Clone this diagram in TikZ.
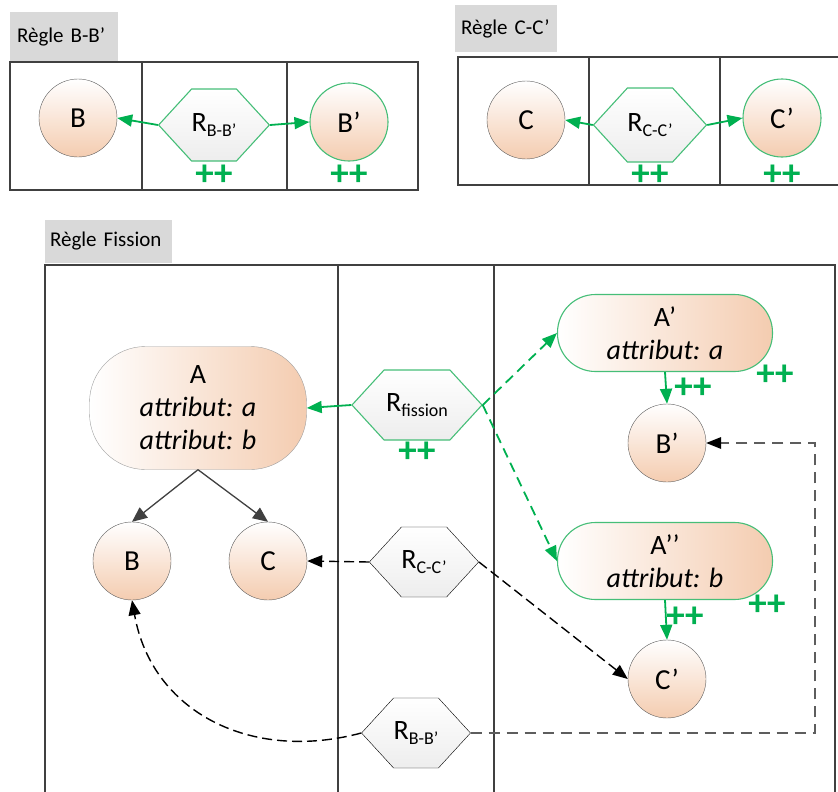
\documentclass[tikz,border=0pt]{standalone}
\usepackage{fontspec}
\setmainfont{Carlito}
\usepackage{tikz}
\usetikzlibrary{arrows.meta,calc,positioning,shapes.symbols}
\usepackage{xcolor}
\definecolor{vert}{RGB}{0,176,80}
\definecolor{vertclair}{RGB}{70,190,120}
\definecolor{peche}{RGB}{244,204,176}
\definecolor{gris}{RGB}{64,64,64}
\definecolor{grisclair}{RGB}{217,217,217}
\newcommand{\rsub}[1]{\raisebox{-0.4ex}{\fontsize{18}{18}\selectfont #1}}

\begin{document}
\begin{tikzpicture}[x=1pt, y=1pt,
  entite/.style={draw=gris!85, circle, minimum size=78pt, inner sep=0pt, top color=white, bottom color=peche, font=\fontsize{29}{29}\selectfont},
  classe/.style={draw=gris!50, rounded corners=38pt, minimum width=215pt, minimum height=77pt, left color=white, right color=peche, align=center, font=\fontsize{28}{33}\selectfont},
  regle/.style={signal, signal to=east and west, signal pointer angle=95, draw=black, minimum width=108pt, minimum height=72pt, inner sep=0pt, top color=white, bottom color=gray!14, font=\fontsize{28}{28}\selectfont},
  cree/.style={draw=vertclair, line width=1.1pt},
  ajout/.style={text=vert, font=\fontsize{37}{37}\selectfont\bfseries, inner sep=0pt},
  titre/.style={fill=grisclair, align=left, font=\fontsize{21}{21}\selectfont},
  cadre/.style={draw=gris, line width=1.4pt},
  flvert/.style={draw=vert, line width=1.8pt, -{Triangle[length=15pt,width=12pt]}},
  flnoir/.style={draw=black, line width=1.4pt, dash pattern=on 10pt off 5pt, -{Triangle[length=15pt,width=12pt]}},
  flgris/.style={draw=gris, line width=1.3pt, -{Triangle[length=15pt,width=13pt]}}]

\useasboundingbox (0,0) rectangle (838,-792);
\clip (0,0) rectangle (838,-792);

% Regle B-B' (haut gauche)
\node[titre, minimum width=108pt, minimum height=50pt, text width=94pt] (tBB) at (64,-37) {Règle B-B’};
\draw[cadre] (10,-62) rectangle (418,-190);
\draw[cadre] (142,-62) -- (142,-190);
\draw[cadre] (287,-62) -- (287,-190);
\node[entite] (bBB) at (78,-118) {B};
\node[regle, cree] (rBB) at (214,-125) {R\rsub{B-B’}};
\node[entite, cree] (bpBB) at (349,-122) {B’};
\node[ajout] (pBB1) at (214,-175) {++};
\node[ajout] (pBB2) at (349,-175) {++};
\draw[flvert] (rBB.west) -- (bBB.east);
\draw[flvert] (rBB.east) -- (bpBB.west);

% Regle C-C' (haut droite)
\node[titre, minimum width=102pt, minimum height=47pt, text width=90pt] (tCC) at (506,-28.5) {Règle C-C’};
\draw[cadre] (458,-57) rectangle (845,-185);
\draw[cadre] (589,-57) -- (589,-185);
\draw[cadre] (720,-57) -- (720,-185);
\node[entite] (cCC) at (526,-120) {C};
\node[regle, cree, minimum width=110pt, minimum height=74pt] (rCC) at (650,-125) {R\rsub{C-C’}};
\node[entite, cree] (cpCC) at (782,-118) {C’};
\node[ajout] (pCC1) at (650,-175) {++};
\node[ajout] (pCC2) at (782,-175) {++};
\draw[flvert] (rCC.west) -- (cCC.east);
\draw[flvert] (rCC.east) -- (cpCC.west);

% Regle Fission (bas)
\node[titre, minimum width=127pt, minimum height=43pt, text width=117pt] (tF) at (108.5,-241.5) {Règle Fission};
\draw[cadre] (45,-265) rectangle (835,-800);
\draw[cadre] (338,-265) -- (338,-800);
\draw[cadre] (494,-265) -- (494,-800);

\node[classe, minimum width=217pt, minimum height=123pt, rounded corners=56pt] (a) at (198,-408) {A\\\textit{attribut: a}\\\textit{attribut: b}};
\node[entite] (b) at (132,-561) {B};
\node[entite] (c) at (268,-561) {C};
\draw[flgris] (a.south) -- (b.north);
\draw[flgris] (a.south) -- (c.north);

\node[regle, cree, minimum width=130pt, minimum height=70pt] (rf) at (417,-405) {R\rsub{fission}};
\node[ajout] (pF) at (417,-452) {++};
\node[regle, minimum height=70pt] (rcc) at (424,-562) {R\rsub{C-C’}};
\node[regle, minimum height=70pt] (rbb) at (416,-733) {R\rsub{B-B’}};

\node[classe, cree] (ap) at (665,-333) {A’\\\textit{attribut: a}};
\node[entite] (bp) at (667,-443) {B’};
\node[classe, cree] (app) at (665,-561) {A’’\\\textit{attribut: b}};
\node[entite] (cp) at (667,-679) {C’};
\node[ajout] (pA1) at (775,-375) {++};
\node[ajout] (pA2) at (693,-388) {++};
\node[ajout] (pA3) at (767,-605) {++};
\node[ajout] (pA4) at (685,-617) {++};

\draw[flvert] (rf.west) -- (a.east);
\draw[flvert, dash pattern=on 10pt off 6pt] (rf.east) -- (ap.west);
\draw[flvert, dash pattern=on 10pt off 6pt] (rf.east) -- (app.west);
\draw[flvert] (ap.south) -- (bp.north);
\draw[flvert] (app.south) -- (cp.north);

\draw[flnoir] (rcc.west) -- (c.east);
\draw[flnoir] (rcc.east) -- (cp.west);
\draw[flnoir] (rbb.west) to[out=195, in=-80, looseness=1.1] (b.south);
\coordinate (coin) at (815,-443);
\draw[flnoir, draw=gris!85, line width=2.6pt, dash pattern=on 11pt off 7pt, -{Triangle[length=15pt,width=12pt,color=black,line width=0pt]}] (rbb.east) -| (coin) -- (bp.east);

\end{tikzpicture}
\end{document}
